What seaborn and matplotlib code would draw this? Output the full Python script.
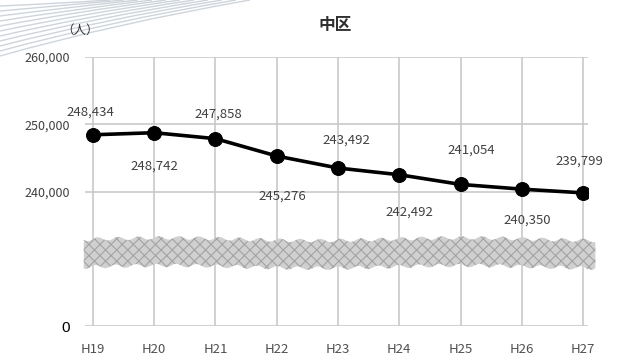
import numpy as np
import pandas as pd
import matplotlib
matplotlib.use("Agg")
import matplotlib.pyplot as plt
from matplotlib.path import Path
from matplotlib.patches import PathPatch
import seaborn as sns

# ---- data ----
years = ["H19", "H20", "H21", "H22", "H23", "H24", "H25", "H26", "H27"]
population = [248434, 248742, 247858, 245276, 243492, 242492, 241054, 240350, 239799]
ytick_values = [260000, 250000, 240000, 220000]
ytick_labels = ["260,000", "250,000", "240,000", "0"]
title = "中区"
unit_label = "（人）"

# label offsets (points) for data labels
label_dx = [-2, 0, 2, 4, 6, 7, 8, 4, -3]
label_dy = [16, -24, 18, -29, 20, -27, 25, -22, 23]

sns.set_theme(style="white")
plt.rcParams["font.family"] = ["Noto Sans CJK JP", "DejaVu Sans"]
plt.rcParams["hatch.color"] = "#a3a3a3"
plt.rcParams["hatch.linewidth"] = 0.8

fig = plt.figure(figsize=(6.17, 3.61), dpi=100)
ax = fig.add_axes([85 / 617, 1 - 326 / 361, (588 - 85) / 617, (326 - 57) / 361])

df = pd.DataFrame({"year": years, "pop": population})
df["x"] = np.arange(len(years))

grid_c = "#c9c9c9"
for xi in df["x"]:
    ax.axvline(xi, color=grid_c, lw=1.2, zorder=0)
for yv in ytick_values:
    ax.axhline(yv, color=grid_c, lw=1.2, zorder=0)

sns.lineplot(data=df, x="x", y="pop", ax=ax, color="black", lw=2.6,
             marker="o", markersize=10, markeredgecolor="black", zorder=3)

for xi, v, dx, dy in zip(df["x"], population, label_dx, label_dy):
    ax.annotate(f"{v:,}", (xi, v), xytext=(dx, dy), textcoords="offset points",
                ha="center", va="center", fontsize=9.5, color="#404040")

ax.set_xlim(-0.13, 8.08)
ax.set_ylim(220000, 260000)
ax.set_xticks(df["x"])
ax.set_xticklabels(years, fontsize=9.5, color="#505050")
ax.set_yticks(ytick_values)
ax.set_yticklabels(ytick_labels, fontsize=9, color="#404040")
ylabs = ax.get_yticklabels()
ylabs[-1].set_color("black")
ylabs[-1].set_fontsize(11)
ylabs[-1].set_family(["Liberation Sans", "DejaVu Sans"])
ax.tick_params(axis="x", pad=12, length=0)
ax.tick_params(axis="y", pad=11, length=0)
ax.set_xlabel("")
ax.set_ylabel("")
for s in ax.spines.values():
    s.set_visible(False)

# wavy break band
xs = np.linspace(-0.15, 8.2, 600)
wave = 250 * np.sin(xs * 2 * np.pi / 0.33) + 200 * np.sin(xs * 1.3)
top = 232900 + wave
bot = 228800 + 250 * np.sin(xs * 2 * np.pi / 0.33 + 0.8) + 200 * np.sin(xs * 1.3)
ax.fill_between(xs, bot, top, facecolor="#d0d0d0", edgecolor="#a3a3a3",
                hatch="xxx", lw=0, zorder=4, clip_on=False)

fig.text(335 / 617, 1 - 25 / 361, title, ha="center", va="center", fontsize=12,
         fontweight="bold", color="#303030")
fig.text(80 / 617, 1 - 30 / 361, unit_label, ha="center", va="center", fontsize=9,
         color="#303030")

# decorative curves top-left
for i in range(11):
    y0 = 1 - (6 + i * 5) / 361
    x1 = (110 + i * 14) / 617
    verts = [(0, y0), (x1 * 0.45, 1 - (4 + i * 2) / 361), (x1, 1.0)]
    p = Path(verts, [Path.MOVETO, Path.CURVE3, Path.CURVE3])
    fig.add_artist(PathPatch(p, fill=False, color="#c2cad2", lw=1.0, alpha=0.8,
                             transform=fig.transFigure))

fig.savefig("out.png", dpi=100)
